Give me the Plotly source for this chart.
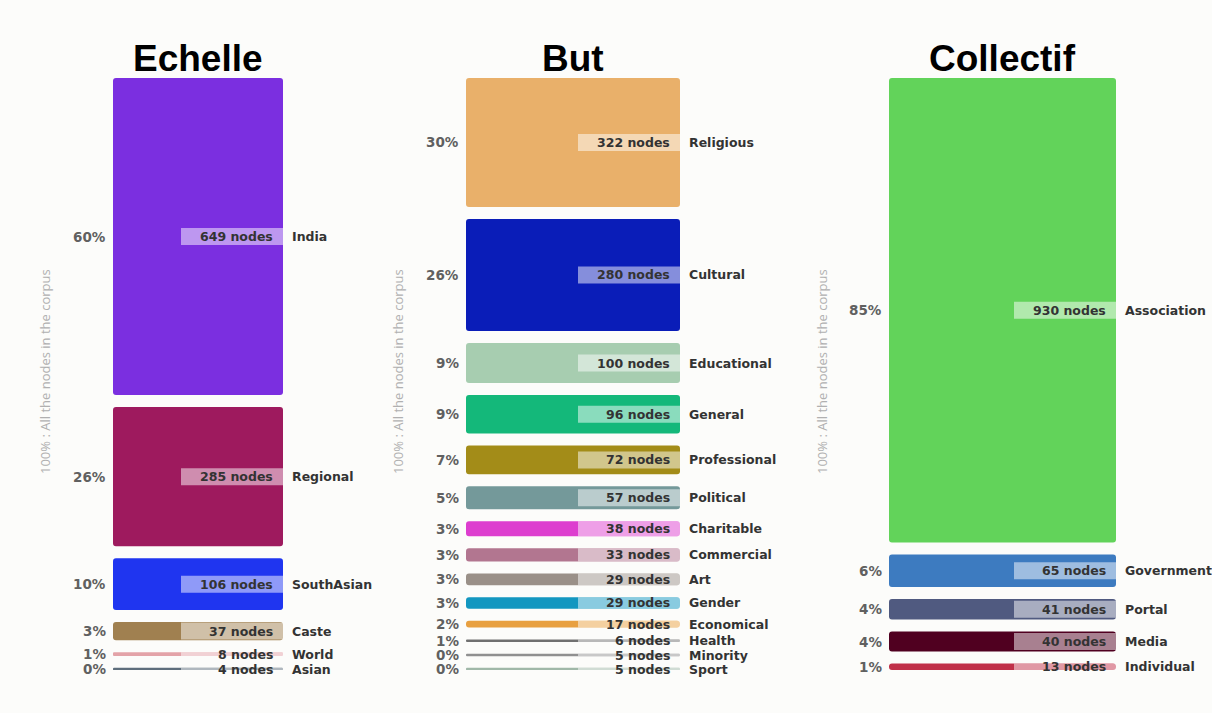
import plotly.graph_objects as go

# ---------------- data ----------------
panel_titles = ["Echelle", "But", "Collectif"]

echelle_cats = ["India", "Regional", "SouthAsian", "Caste", "World", "Asian"]
echelle_nodes = [649, 285, 106, 37, 8, 4]
echelle_colors = ["#7B2FE0", "#9E1A5E", "#1F35F0", "#A08050", "#E3A3A8", "#5E6E7C"]

but_cats = ["Religious", "Cultural", "Educational", "General", "Professional", "Political",
            "Charitable", "Commercial", "Art", "Gender", "Economical", "Health",
            "Minority", "Sport"]
but_nodes = [322, 280, 100, 96, 72, 57, 38, 33, 29, 29, 17, 6, 5, 5]
but_colors = ["#E9B06A", "#0A1DB8", "#A7CDB0", "#14B87A", "#A38C18", "#74999A",
              "#DD3ECF", "#B27690", "#9A9088", "#1397C0", "#E8A040", "#707070",
              "#909090", "#A0B8A8"]

collectif_cats = ["Association", "Government", "Portal", "Media", "Individual"]
collectif_nodes = [930, 65, 41, 40, 13]
collectif_colors = ["#62D35A", "#3D7BC0", "#505A80", "#500020", "#C03048"]

corpus_label = "100% : All the nodes in the corpus"

# ---------------- layout constants (pixels) ----------------
W, H = 1212, 713
TOP, BOTTOM = 78, 670
PLOT_H = BOTTOM - TOP
GAP_PX = 12
BAND_PX = 17
BOX_PX = 102
MIN_BAR_PX = 2.5
bar_px = [(113, 283), (466, 680), (889, 1116)]
side_px = [45, 398, 822]
TITLE_Y = 58
SIDE_Y = 372


def py(p):
    """pixel y (from top) -> paper y"""
    return (BOTTOM - p) / PLOT_H


panels = [
    (echelle_cats, echelle_nodes, echelle_colors),
    (but_cats, but_nodes, but_colors),
    (collectif_cats, collectif_nodes, collectif_colors),
]

fig = go.Figure()
annotations = []
layout_axes = {}

for i, ((cats, nodes, colors), (x0, x1)) in enumerate(zip(panels, bar_px)):
    sfx = "" if i == 0 else str(i + 1)
    xa, ya = "x" + sfx, "y" + sfx
    total = sum(nodes)
    n = len(nodes)
    k = (PLOT_H - (n - 1) * GAP_PX) / total  # px per node
    gap = GAP_PX / k
    band = BAND_PX / k
    span = total + (n - 1) * gap
    bases, mids = [], []
    cur = 0.0
    for v in nodes:
        bases.append(cur)
        mids.append(cur + v / 2)
        cur += v + gap
    # visible heights (very thin bars get a minimal stroke)
    hs = [max(v, MIN_BAR_PX / k) for v in nodes]
    bs = [m - h / 2 for m, h in zip(mids, hs)]

    fig.add_trace(go.Bar(
        x=[0] * n, y=hs, base=bs, width=1.0,
        marker=dict(color=colors, line=dict(width=0), cornerradius=3),
        xaxis=xa, yaxis=ya, hoverinfo="skip", showlegend=False,
    ))
    # label band overlay (right part of each bar)
    w_units = BOX_PX / (x1 - x0)
    oh = [min(h, band) for h in hs]
    ob = [m - h / 2 for m, h in zip(mids, oh)]
    fig.add_trace(go.Bar(
        x=[0] * n, y=oh, base=ob, width=w_units, offset=0.5 - w_units,
        marker=dict(color="rgba(255,255,255,0.5)", line=dict(width=0), cornerradius=0),
        xaxis=xa, yaxis=ya, hoverinfo="skip", showlegend=False,
    ))

    layout_axes["xaxis" + sfx] = dict(domain=[x0 / W, x1 / W], range=[-0.5, 0.5],
                                      visible=False, fixedrange=True)
    layout_axes["yaxis" + sfx] = dict(domain=[0, 1], range=[span, 0], visible=False,
                                      fixedrange=True, anchor=xa)

    font_b = dict(family="DejaVu Sans", size=12.5, color="#333333")
    for c, v, m in zip(cats, nodes, mids):
        pct = round(100 * v / total)
        annotations.append(dict(xref=xa, yref=ya, x=-0.5, y=m, xanchor="right", yanchor="middle",
                                xshift=-5, text=f"<b>{pct}%</b>", showarrow=False,
                                font=dict(family="DejaVu Sans", size=13.5, color="#606060")))
        annotations.append(dict(xref=xa, yref=ya, x=0.5, y=m, xanchor="right", yanchor="middle",
                                xshift=-8, text=f"<b>{v} nodes</b>", showarrow=False, font=font_b))
        annotations.append(dict(xref=xa, yref=ya, x=0.5, y=m, xanchor="left", yanchor="middle",
                                xshift=7, text=f"<b>{c}</b>", showarrow=False, font=font_b))

    annotations.append(dict(xref="paper", yref="paper", x=(x0 + x1) / 2 / W, y=py(TITLE_Y),
                            xanchor="center", yanchor="middle", text=f"<b>{panel_titles[i]}</b>",
                            showarrow=False,
                            font=dict(family="Liberation Sans", size=37, color="#000000")))
    annotations.append(dict(xref="paper", yref="paper", x=side_px[i] / W, y=py(SIDE_Y),
                            xanchor="center", yanchor="middle", text=corpus_label, textangle=-90,
                            showarrow=False,
                            font=dict(family="Open Sans", size=13, color="#b0b0b0")))

fig.update_layout(
    width=W, height=H,
    margin=dict(l=0, r=0, t=TOP, b=H - BOTTOM),
    paper_bgcolor="#fcfcfa", plot_bgcolor="rgba(0,0,0,0)",
    barmode="overlay", showlegend=False,
    annotations=annotations,
    **layout_axes,
)

fig.write_html(
    "out.html",
    config={"displayModeBar": False},
    post_script="document.body.style.margin='0';document.body.style.overflow='hidden';",
)
